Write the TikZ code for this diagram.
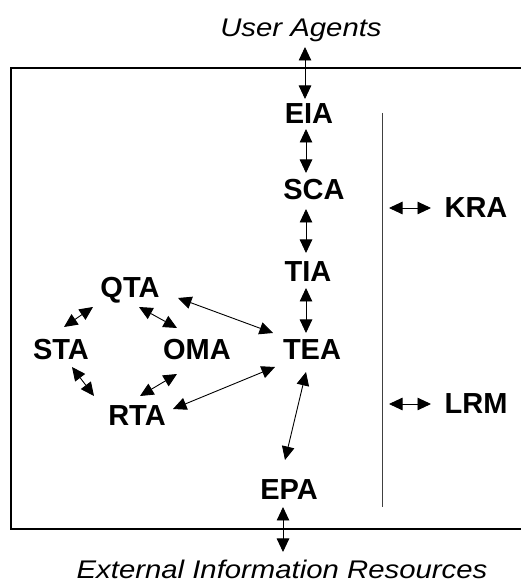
\documentclass[tikz,border=0pt]{standalone}
\usepackage{fontspec}
\setmainfont{Liberation Sans}
\newfontfamily\itfam[FakeStretch=1.15]{Liberation Sans Italic}
\usetikzlibrary{arrows.meta,calc}
\begin{document}
\begin{tikzpicture}[x=1pt,y=1pt,
  lab/.style={inner sep=0pt,font=\fontsize{29}{33}\selectfont\bfseries},
  ext/.style={inner sep=0pt,anchor=base,font=\fontsize{25.5}{30}\selectfont\itfam},
  link/.style={line width=0.9pt,{Triangle[length=13.5pt,width=12.5pt]}-{Triangle[length=13.5pt,width=12.5pt]}},
  frame/.style={line width=1.1pt},
  divider/.style={line width=0.9pt,black!75}]
\useasboundingbox (0,0) rectangle (521,586);
% frame (open on the right)
\coordinate (fr1) at (521,518);
\coordinate (fr2) at (11,518);
\coordinate (fr3) at (11,57);
\coordinate (fr4) at (521,57);
\draw[frame] (fr1) -- (fr2) -- (fr3) -- (fr4);
% divider
\coordinate (dv1) at (382,473);
\coordinate (dv2) at (382,79);
\draw[divider] (dv1) -- (dv2);
% nodes
\node[lab] (EIA) at (309,472) {EIA};
\node[lab] (SCA) at (314,396) {SCA};
\node[lab] (TIA) at (308,314) {TIA};
\node[lab] (TEA) at (312,236) {TEA};
\node[lab] (QTA) at (130,296) {QTA};
\node[lab] (STA) at (61,236) {STA};
\node[lab] (OMA) at (197,236) {OMA};
\node[lab] (RTA) at (137,170) {RTA};
\node[lab] (EPA) at (289,96) {EPA};
\node[lab] (KRA) at (476,378) {KRA};
\node[lab] (LRM) at (476,182) {LRM};
\node[ext] (UA) at (301,549) {User Agents};
\node[ext] (EIR) at (282,8) {External Information Resources};
% connectors
\draw[link] ($(UA.base)+(4,-10)$) -- ($(EIA)+(-4,15)$);
\draw[link] ($(EIA)+(-3,-15)$) -- ($(SCA)+(-8,17)$);
\draw[link] ($(SCA)+(-8,-19)$) -- ($(TIA)+(-2,19)$);
\draw[link] ($(TIA)+(-2,-16)$) -- ($(TEA)+(-6,17)$);
\draw[link] ($(QTA)+(48,-8)$) -- ($(TEA)+(-39,17)$);
\draw[link] ($(QTA)+(-37,-17)$) -- ($(STA)+(3,23)$);
\draw[link] ($(QTA)+(9,-17)$) -- ($(OMA)+(-20,22)$);
\draw[link] ($(STA)+(11,-17)$) -- ($(RTA)+(-43,20)$);
\draw[link] ($(OMA)+(-20,-24)$) -- ($(RTA)+(3,20)$);
\draw[link] ($(RTA)+(36,7)$) -- ($(TEA)+(-37,-17)$);
\draw[link] ($(EPA)+(-4,30)$) -- ($(TEA)+(-6,-22)$);
\draw[link] ($(EPA)+(-6,-17)$) -- ($(EIR.base)+(1,26)$);
\coordinate (kr) at (389,378);
\coordinate (lr) at (389,182);
\draw[link] (kr) -- ($(KRA)+(-45,0)$);
\draw[link] (lr) -- ($(LRM)+(-45,0)$);
\end{tikzpicture}
\end{document}
